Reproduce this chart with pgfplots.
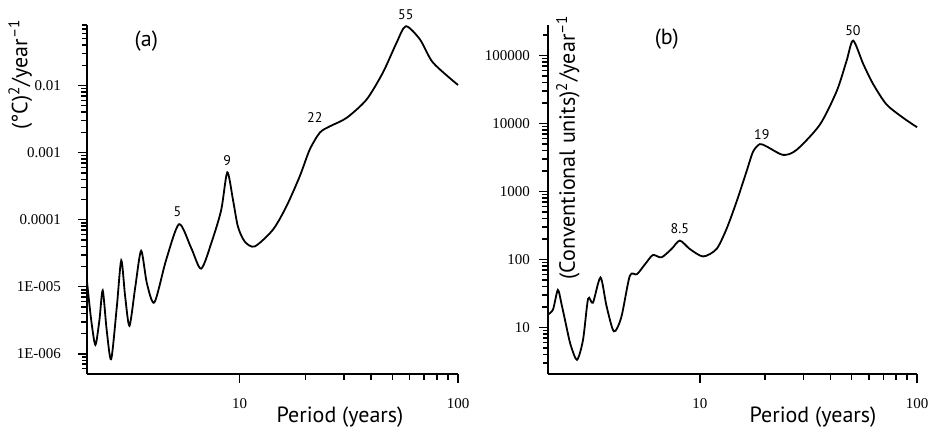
\documentclass[border=0pt]{standalone}
\usepackage{fontspec}
\setmainfont{PT Sans}
\newfontfamily\tickfont{Liberation Serif}
\usepackage{pgfplots}
\pgfplotsset{compat=1.18}

\begin{document}
\begin{tikzpicture}
\path[use as bounding box] (0,0) rectangle (465.5pt,216pt);

% (a) temperature
\begin{axis}[
  xmode=log, ymode=log,
  scale only axis, height=174.5pt, width=185.5pt,
  at={(43.5pt,29pt)}, anchor=south west,
  xmin=2, xmax=100, ymin=5e-7, ymax=0.08,
  axis x line*=bottom, axis y line*=left,
  axis line style={line width=0.75pt},
  tick align=outside,
  major tick length=4.5pt,
  tick style={black, line width=0.75pt},
  xtick={10,100}, xticklabels={10,100},
  ytick={1e-6,1e-5,1e-4,1e-3,1e-2},
  yticklabels={1E-006,1E-005,0.0001,0.001,0.01},
  extra x ticks={20,30,40,50,60,70,80,90},
  extra x tick labels={},
  extra y ticks={6e-7,7e-7,8e-7,9e-7,2e-6,3e-6,4e-6,5e-6,6e-6,7e-6,8e-6,9e-6,
    2e-5,3e-5,4e-5,5e-5,6e-5,7e-5,8e-5,9e-5,2e-4,3e-4,4e-4,5e-4,6e-4,7e-4,8e-4,9e-4,
    2e-3,3e-3,4e-3,5e-3,6e-3,7e-3,8e-3,9e-3,2e-2,3e-2,4e-2,5e-2,6e-2,7e-2,8e-2},
  extra y tick labels={},
  extra tick style={major tick length=2.5pt},
  tick label style={font=\tickfont\fontsize{7.5}{9}\selectfont},
  xticklabel style={yshift=-4pt},
  yticklabel style={xshift=-5pt},
  clip=false,
  xlabel={Period (years)},
  xlabel style={at={(axis description cs:0.682,-0.123)}, anchor=center, font=\fontsize{11}{13}\selectfont},
  ylabel={(°C)\textsuperscript{2}/year\textsuperscript{--1}},
  ylabel style={at={(axis description cs:-0.18,1.037)}, anchor=east, font=\fontsize{11}{13}\selectfont},
]
\addplot[black, line width=0.9pt, smooth, tension=0.45, mark=none] coordinates {
  (2.0,1.2e-5) (2.09,3.2e-6) (2.185,1.36e-6) (2.28,3.2e-6) (2.36,8.8e-6)
  (2.46,2.3e-6) (2.58,8.3e-7) (2.74,5.1e-6) (2.87,2.47e-5) (2.99,7.2e-6)
  (3.13,2.62e-6) (3.33,1.01e-5) (3.54,3.44e-5) (3.76,1.13e-5) (4.07,5.83e-6)
  (4.61,2.53e-5) (5.28,8.57e-5) (6.0,3.79e-5) (6.67,1.86e-5) (7.5,5e-5)
  (8.24,1.41e-4) (8.78,5.08e-4) (9.32,1.99e-4) (9.82,7.9e-5) (10.54,4.74e-5)
  (11.72,3.99e-5) (14.21,7.1e-5) (16.38,1.58e-4) (18.85,4.43e-4) (20.94,1.11e-3)
  (23.3,1.99e-3) (25.9,2.47e-3) (30.9,3.3e-3) (38.1,6.17e-3) (45.3,0.0156)
  (52.3,0.0434) (57.7,0.0767) (67.0,0.0486) (76.8,0.022) (100,0.0102)
};
\node[font=\fontsize{11}{13}\selectfont] at (axis cs:3.74,0.0454) {(a)};
\node[font=\fontsize{7}{8}\selectfont] at (axis cs:57.7,0.115) {55};
\node[font=\fontsize{7}{8}\selectfont] at (axis cs:22.1,0.00333) {22};
\node[font=\fontsize{7}{8}\selectfont] at (axis cs:8.78,7.6e-4) {9};
\node[font=\fontsize{7}{8}\selectfont] at (axis cs:5.19,1.31e-4) {5};
\end{axis}

% (b) conventional units
\begin{axis}[
  xmode=log, ymode=log,
  scale only axis, height=174.5pt, width=184.5pt,
  at={(274pt,29pt)}, anchor=south west,
  xmin=2, xmax=100, ymin=2.08, ymax=2.8e5,
  axis x line*=bottom, axis y line*=left,
  axis line style={line width=0.75pt},
  tick align=outside,
  major tick length=4.5pt,
  tick style={black, line width=0.75pt},
  xtick={10,100}, xticklabels={10,100},
  ytick={10,100,1000,10000,100000},
  yticklabels={10,100,1000,10000,100000},
  extra x ticks={20,30,40,50,60,70,80,90},
  extra x tick labels={},
  extra y ticks={3,4,5,6,7,8,9,20,30,40,50,60,70,80,90,200,300,400,500,600,700,800,900,
    2000,3000,4000,5000,6000,7000,8000,9000,20000,30000,40000,50000,60000,70000,80000,90000,200000},
  extra y tick labels={},
  extra tick style={major tick length=2.5pt},
  tick label style={font=\tickfont\fontsize{7.5}{9}\selectfont},
  xticklabel style={yshift=-4pt},
  yticklabel style={xshift=-1pt},
  clip=false,
  xlabel={Period (years)},
  xlabel style={at={(axis description cs:0.718,-0.123)}, anchor=center, font=\fontsize{11}{13}\selectfont},
  ylabel={(Conventional units)\textsuperscript{2}/year\textsuperscript{--1}},
  ylabel style={at={(axis description cs:0.054,1.049)}, anchor=east, font=\fontsize{11}{13}\selectfont},
]
\addplot[black, line width=0.9pt, smooth, tension=0.45, mark=none] coordinates {
  (2.0,15.6) (2.11,18.5) (2.22,35.7) (2.31,21.9) (2.43,10.4) (2.54,5.6)
  (2.72,3.36) (2.90,6.64) (3.06,26.6) (3.22,23.2) (3.49,54.5) (3.72,20.7)
  (4.02,8.8) (4.35,14.2) (4.76,57.5) (5.14,61.0) (5.68,90.9) (6.09,116.7)
  (6.66,107.8) (7.41,143) (8.09,190) (8.99,143) (10.36,111) (11.94,143)
  (13.28,283) (14.75,703) (16.4,1960) (17.6,3870) (18.9,4970) (20.3,4590)
  (24.2,3450) (27.9,4090) (35.7,9590) (42.7,30000) (47.4,83400) (50.8,165000)
  (56.6,74300) (62.9,37600) (72.4,19000) (86.5,12050) (100,8800)
};
\node[font=\fontsize{11}{13}\selectfont] at (axis cs:7.05,172600) {(b)};
\node[font=\fontsize{7}{8}\selectfont] at (axis cs:50.7,234600) {50};
\node[font=\fontsize{7}{8}\selectfont] at (axis cs:19.3,6760) {19};
\node[font=\fontsize{7}{8}\selectfont] at (axis cs:8.09,283) {8.5};
\end{axis}
\end{tikzpicture}
\end{document}
